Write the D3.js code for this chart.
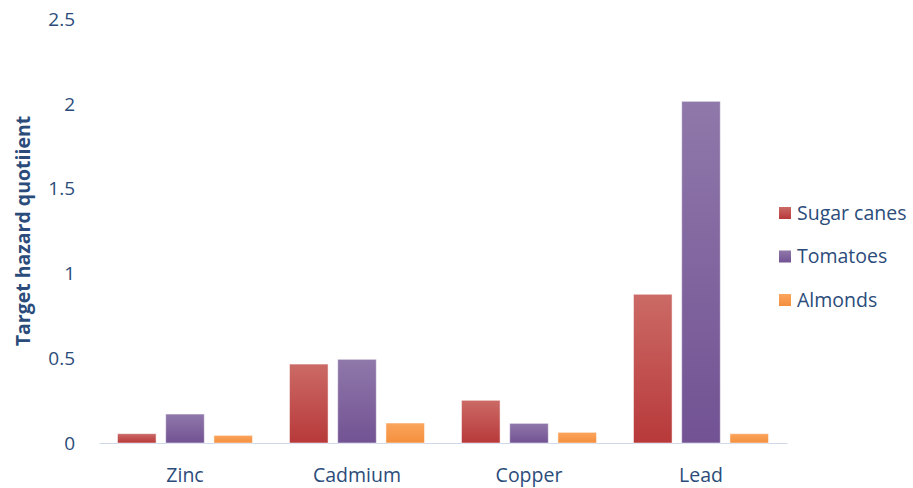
<!DOCTYPE html>
<html>
<head>
<meta charset="utf-8">
<script src="https://cdn.jsdelivr.net/npm/d3@7"></script>
<style>
  body { margin: 0; background: #fff; }
  text { font-family: "Open Sans", "Noto Sans", sans-serif; fill: #2b4c7a; }
</style>
</head>
<body>
<div id="chart"></div>
<script>
// chart data
const metals = ["Zinc", "Cadmium", "Copper", "Lead"];
const crops = ["Sugar canes", "Tomatoes", "Almonds"];
const sugarCanes = [0.055, 0.466, 0.252, 0.878];
const tomatoes = [0.171, 0.494, 0.116, 2.017];
const almonds = [0.045, 0.118, 0.063, 0.055];
const yTicks = [0, 0.5, 1, 1.5, 2, 2.5];

const series = [sugarCanes, tomatoes, almonds];
const rows = metals.map((m, i) => ({
    metal: m,
    values: crops.map((c, j) => ({crop: c, value: series[j][i]}))
}));

const width = 913, height = 488;
const margin = {top: 19.5, right: 126, bottom: 45, left: 99};
const innerW = width - margin.left - margin.right;
const innerH = height - margin.top - margin.bottom;

const colors = {
    "Sugar canes": ["#cb6a66", "#b8393a"],
    "Tomatoes": ["#8f78aa", "#725293"],
    "Almonds": ["#fba55e", "#f48f3c"]
};

const svg = d3.select('#chart').append('svg')
    .attr('width', width)
    .attr('height', height);

// gradients for the bars
const defs = svg.append('defs');
crops.forEach((c, i) => {
    const g = defs.append('linearGradient')
        .attr('id', 'grad' + i)
        .attr('x1', 0).attr('y1', 0).attr('x2', 0).attr('y2', 1);
    g.append('stop').attr('offset', '0%').attr('stop-color', colors[c][0]);
    g.append('stop').attr('offset', '100%').attr('stop-color', colors[c][1]);
});

const chart = svg.append('g')
    .attr('transform', `translate(${margin.left},${margin.top})`);

const xScale = d3.scaleBand()
    .domain(metals)
    .range([0, innerW])
    .paddingInner(0.215)
    .paddingOuter(0.1075);

const x1 = d3.scaleBand()
    .domain(crops)
    .range([0, xScale.bandwidth()])
    .paddingInner(0.2);

const yScale = d3.scaleLinear()
    .domain([0, 2.5])
    .range([innerH, 0]);

// y axis labels (no line)
const yAxis = d3.axisLeft(yScale)
    .tickValues(yTicks)
    .tickSize(0)
    .tickPadding(24)
    .tickFormat(d3.format('~g'));

chart.append('g')
    .attr('class', 'y-axis')
    .call(yAxis)
    .call(g => g.select('.domain').remove())
    .selectAll('text')
    .attr('font-size', 19)
    .attr('fill', '#2b4c7a')
    .attr('font-family', '"Open Sans", sans-serif');

// x axis
const xAxis = d3.axisBottom(xScale)
    .tickSize(0)
    .tickPadding(25);

chart.append('g')
    .attr('class', 'x-axis')
    .attr('transform', `translate(0,${innerH})`)
    .call(xAxis)
    .call(g => g.select('.domain').attr('stroke', '#d0d9ea').attr('stroke-width', 1.2))
    .selectAll('text')
    .attr('font-size', 19.5)
    .attr('fill', '#2b4c7a')
    .attr('font-family', '"Open Sans", sans-serif');

// bars
const group = chart.selectAll('.group')
    .data(rows)
    .enter().append('g')
    .attr('class', 'group')
    .attr('transform', d => `translate(${xScale(d.metal)},0)`);

group.selectAll('rect')
    .data(d => d.values)
    .enter().append('rect')
    .attr('x', d => x1(d.crop))
    .attr('y', d => yScale(d.value))
    .attr('width', x1.bandwidth())
    .attr('height', d => innerH - yScale(d.value))
    .attr('fill', d => `url(#grad${crops.indexOf(d.crop)})`)
    .attr('stroke', '#ffffff')
    .attr('stroke-opacity', 0.5)
    .attr('stroke-width', 1);

// axis title
svg.append('text')
    .attr('transform', `translate(22,231) rotate(-90)`)
    .attr('text-anchor', 'middle')
    .attr('dominant-baseline', 'central')
    .attr('font-size', 19.5)
    .attr('font-weight', 'bold')
    .text('Target hazard quotiient');

// legend
const legend = svg.append('g')
    .attr('transform', 'translate(779,213)');

const item = legend.selectAll('.item')
    .data(crops)
    .enter().append('g')
    .attr('class', 'item')
    .attr('transform', (d, i) => `translate(0,${i * 43.5})`);

item.append('rect')
    .attr('x', 0)
    .attr('y', -6)
    .attr('width', 12)
    .attr('height', 12)
    .attr('fill', (d, i) => `url(#grad${i})`);

item.append('text')
    .attr('x', 18)
    .attr('dy', '0.35em')
    .attr('font-size', 19.5)
    .text(d => d);
</script>
</body>
</html>
